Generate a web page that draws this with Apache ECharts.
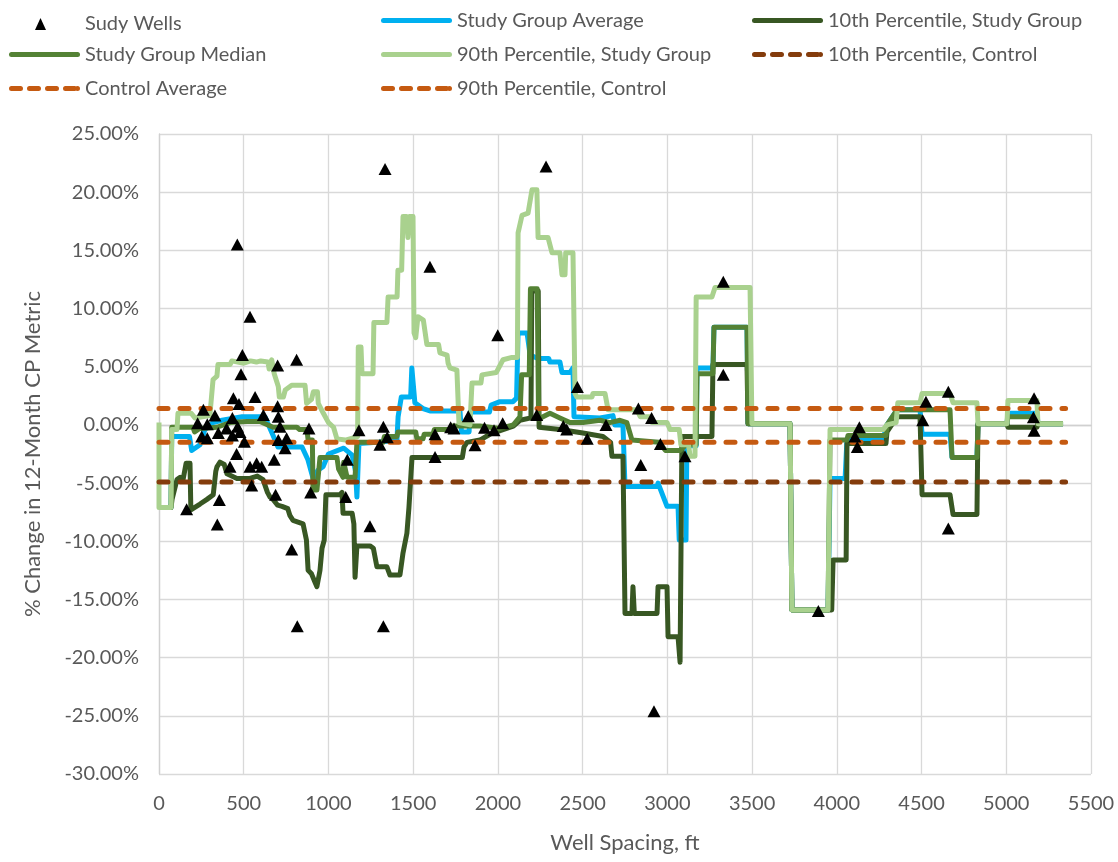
<!DOCTYPE html>
<html>
<head>
<meta charset="utf-8">
<title>Well Spacing vs 12-Month CP Metric</title>
<script src="https://cdn.jsdelivr.net/npm/echarts@6/dist/echarts.min.js"></script>
<style>
  html, body { margin: 0; padding: 0; background: #ffffff; }
  #chart { width: 1118px; height: 862px; }
</style>
</head>
<body>
<div id="chart"></div>
<script>
// Individual wells: [well spacing (ft), % change in 12-month CP metric]
const studyWells = [
  [492, 6.0], [812, 5.6], [700, 5.1], [484, 4.35], [439, 2.3], [472, 1.8], [567, 2.4],
  [262, 1.3], [330, 0.8], [228, 0.15], [285, 0.05], [433, 0.6], [616, 0.85], [700, 1.6],
  [704, 0.7], [714, -0.15], [350, -0.7], [399, -0.3], [464, -0.15], [478, -0.6], [252, -1.0],
  [285, -1.15], [433, -0.9], [504, -1.45], [704, -1.3], [753, -1.15], [744, -2.0], [885, -0.3],
  [458, -2.5], [419, -3.6], [537, -3.6], [576, -3.3], [606, -3.6], [680, -3.0], [547, -5.2],
  [688, -6.0], [895, -5.8], [163, -7.25], [356, -6.45], [344, -8.55], [462, 15.5], [537, 9.3],
  [783, -10.7], [816, -17.3], [1324, -17.3], [1334, 22.0], [1599, 13.6], [1102, -6.2],
  [1111, -3.0], [1245, -8.7], [1180, -0.45], [1324, -0.15], [1304, -1.7], [1347, -1.05],
  [1629, -0.8], [1629, -2.75], [1721, -0.2], [1741, -0.3], [1825, 0.75], [1865, -1.75],
  [1921, -0.25], [1977, -0.45], [2028, 0.15], [1999, 7.7], [2229, 0.85], [2386, -0.1],
  [2406, -0.4], [2527, -1.2], [2469, 3.25], [2638, 0.0], [2829, 1.4], [2907, 0.6],
  [2959, -1.65], [2843, -3.45], [2284, 22.2], [2921, -24.6], [3104, -2.7], [3330, 12.3],
  [3330, 4.3], [3891, -16.0], [4133, -0.2], [4107, -1.0], [4121, -1.9], [4507, 0.4],
  [4526, 2.0], [4658, 2.85], [4658, -8.9], [5164, 2.3], [5160, 0.65], [5164, -0.5]
];

// Rolling study-group statistics along well spacing
const studyAverage = [
  [0, -7.1], [71, -7.1], [75, -1.0], [180, -1.0], [193, -2.2], [200, -2.2], [242, -1.7],
  [271, -0.4], [319, 0.2], [372, 0.4], [490, 0.7], [625, 0.7], [667, -0.7], [702, -1.9],
  [844, -1.9], [879, -3.0], [909, -4.6], [938, -3.9], [968, -3.6], [1000, -2.5], [1090, -2.0],
  [1140, -2.6], [1160, -4.0], [1168, -6.2], [1180, -1.6], [1286, -1.5], [1404, -1.3],
  [1411, 0.7], [1430, 2.4], [1485, 2.4], [1492, 4.9], [1502, 4.9], [1510, 1.9], [1558, 1.4],
  [1599, 1.2], [1776, 1.2], [1785, -0.6], [1830, -0.6], [1835, 1.1], [1950, 1.1], [1960, 1.7],
  [2012, 2.0], [2089, 2.0], [2110, 2.3], [2119, 7.9], [2172, 7.9], [2190, 6.0], [2237, 5.7],
  [2300, 5.7], [2307, 5.4], [2366, 5.4], [2378, 4.5], [2425, 4.5], [2443, 4.9], [2449, 0.7],
  [2602, 0.6], [2679, 0.8], [2690, 0.0], [2738, 0.0], [2750, -5.3], [2939, -5.3], [2945, -5.0],
  [2998, -7.0], [3063, -7.0], [3070, -9.9], [3110, -9.9], [3115, -1.8], [3170, -1.8],
  [3175, 4.9], [3269, 4.9], [3275, 8.4], [3470, 8.4], [3476, 0.1], [3724, 0.1], [3735, -15.9],
  [3948, -15.9], [3960, -4.6], [4049, -4.6], [4060, -1.2], [4273, -1.2], [4296, 0.0],
  [4355, 1.3], [4491, 1.3], [4503, -0.8], [4668, -0.8], [4680, -2.8], [4827, -2.8],
  [4833, 0.1], [5004, 0.1], [5010, 1.0], [5181, 1.0], [5187, 0.1], [5335, 0.1]
];

const studyP10 = [
  [0, -7.1], [71, -7.1], [77, -6.4], [106, -4.7], [125, -4.5], [142, -4.7], [160, -3.3],
  [183, -3.3], [188, -7.3], [242, -6.8], [283, -6.4], [320, -6.0], [335, -4.0], [342, -3.6],
  [360, -3.2], [385, -3.4], [401, -4.2], [460, -4.6], [537, -4.6], [580, -4.4], [614, -4.7],
  [640, -5.8], [655, -6.2], [673, -6.4], [700, -6.9], [726, -7.0], [760, -7.2], [773, -7.8],
  [791, -8.2], [850, -8.5], [870, -9.9], [880, -12.5], [900, -12.8], [920, -13.5],
  [932, -13.9], [950, -12.5], [962, -10.6], [975, -9.9], [985, -6.0], [1068, -6.0],
  [1080, -5.8], [1086, -7.6], [1140, -7.6], [1150, -8.5], [1157, -13.1], [1168, -10.4],
  [1245, -10.4], [1265, -10.6], [1286, -12.2], [1345, -12.2], [1363, -12.9], [1422, -12.9],
  [1440, -11.0], [1463, -9.3], [1475, -7.1], [1493, -2.8], [1790, -2.8], [1800, -1.9],
  [1817, -1.5], [1894, -1.3], [1953, -0.8], [2030, -0.4], [2091, -0.1], [2130, 0.4],
  [2195, 0.6], [2200, 11.5], [2238, 11.5], [2243, -0.2], [2366, -0.4], [2502, -0.7],
  [2620, -1.0], [2665, -1.5], [2673, -2.7], [2738, -2.7], [2750, -16.2], [2791, -16.2],
  [2797, -13.9], [2805, -16.2], [2939, -16.2], [2945, -13.9], [2998, -13.9], [3004, -18.2],
  [3063, -18.2], [3075, -20.4], [3086, -1.0], [3263, -1.0], [3269, 5.2], [3470, 5.2],
  [3476, 0.1], [3724, 0.1], [3735, -15.9], [3970, -15.9], [3978, -11.6], [4055, -11.6],
  [4060, -1.6], [4290, -1.6], [4296, -0.6], [4355, 0.7], [4491, 0.7], [4503, -6.0],
  [4668, -6.0], [4686, -7.7], [4827, -7.7], [4833, 0.1], [5004, 0.1], [5010, -0.2],
  [5181, -0.2], [5187, 0.1], [5335, 0.1]
];

const studyMedian = [
  [0, -7.1], [71, -7.1], [75, -0.2], [200, -0.2], [210, -0.6], [240, -0.3], [342, -0.2],
  [419, 0.2], [519, 0.3], [596, 0.3], [673, -0.2], [814, -0.2], [830, -0.4], [873, -0.4],
  [880, -1.3], [905, -1.3], [909, -5.6], [932, -5.6], [950, -2.8], [1050, -2.8], [1060, -3.8],
  [1086, -4.5], [1090, -3.2], [1110, -4.5], [1157, -4.5], [1168, -1.5], [1322, -1.5],
  [1330, -1.0], [1404, -1.0], [1410, -0.6], [1515, -0.6], [1522, -1.2], [1558, -1.2],
  [1565, -0.8], [1617, -0.8], [1625, -0.4], [1717, -0.4], [1725, -0.1], [1894, -0.1],
  [2012, -0.3], [2091, 0.0], [2130, 0.7], [2140, 4.3], [2185, 4.3], [2192, 11.7],
  [2232, 11.7], [2240, 0.5], [2307, 1.0], [2366, 0.6], [2425, 0.2], [2502, 0.2], [2602, 0.4],
  [2661, 0.2], [2720, 0.4], [2761, 0.2], [2791, -1.3], [2950, -1.5], [2989, -2.2],
  [3075, -2.2], [3110, -1.7], [3170, -1.7], [3175, 4.4], [3269, 4.4], [3275, 8.4],
  [3470, 8.4], [3476, 0.1], [3724, 0.1], [3735, -15.9], [3948, -15.9], [3960, -1.3],
  [4060, -1.3], [4066, -0.9], [4290, -0.9], [4296, 0.0], [4355, 1.3], [4668, 1.3],
  [4680, -2.8], [4827, -2.8], [4833, 0.1], [5004, 0.1], [5010, 0.7], [5181, 0.7],
  [5187, 0.1], [5335, 0.1]
];

const studyP90 = [
  [0, 0.2], [0, -7.1], [71, -7.1], [75, -0.4], [106, -0.4], [112, 1.0], [190, 1.0],
  [212, 0.6], [300, 0.8], [319, 3.9], [342, 4.2], [348, 5.2], [420, 5.2], [430, 5.5],
  [500, 5.3], [540, 5.5], [575, 5.4], [600, 5.5], [643, 5.4], [650, 4.8], [658, 5.3],
  [665, 5.6], [680, 4.4], [704, 3.3], [710, 2.4], [734, 2.4], [745, 3.0], [783, 3.4],
  [862, 3.4], [871, 1.85], [900, 2.2], [911, 2.85], [935, 2.85], [940, 1.85], [970, 1.0],
  [1000, 0.2], [1030, -0.2], [1050, -1.2], [1100, -1.3], [1172, -1.0], [1176, 6.7],
  [1192, 6.7], [1198, 4.4], [1263, 4.4], [1268, 8.8], [1345, 8.8], [1352, 11.0], [1405, 11.0],
  [1410, 13.3], [1432, 13.3], [1440, 17.9], [1460, 17.9], [1469, 16.1], [1478, 17.9],
  [1499, 17.9], [1505, 7.9], [1515, 7.5], [1528, 9.3], [1560, 9.0], [1581, 6.9], [1650, 6.9],
  [1658, 6.2], [1700, 6.0], [1706, 5.3], [1717, 4.9], [1758, 4.7], [1770, 0.2], [1835, 0.0],
  [1847, 3.6], [1900, 3.6], [1906, 4.3], [1990, 4.5], [2030, 5.6], [2083, 5.8], [2115, 5.8],
  [2119, 16.5], [2142, 18.0], [2178, 18.2], [2201, 20.2], [2230, 20.2], [2237, 16.1],
  [2296, 16.1], [2319, 14.8], [2366, 14.8], [2378, 12.9], [2396, 12.9], [2400, 14.8],
  [2443, 14.8], [2455, 2.7], [2466, 2.4], [2555, 2.4], [2561, 2.7], [2632, 2.7], [2650, 1.3],
  [2820, 1.3], [2840, 0.7], [2898, 0.7], [2910, 0.2], [2998, 0.2], [3016, -0.4], [3070, -0.4],
  [3080, -1.7], [3125, -1.7], [3134, -2.7], [3163, -2.7], [3170, 11.0], [3263, 11.0],
  [3281, 11.8], [3488, 11.8], [3499, 0.1], [3724, 0.1], [3735, -15.9], [3948, -15.9],
  [3960, -0.4], [4273, -0.4], [4296, 0.0], [4350, 0.2], [4360, 1.9], [4491, 1.9],
  [4503, 2.7], [4668, 2.7], [4686, 1.9], [4827, 1.9], [4833, 0.1], [5004, 0.1], [5010, 2.1],
  [5181, 2.1], [5187, 0.1], [5335, 0.1]
];

// Control group reference levels (%)
const controlP10 = -4.9;
const controlAverage = -1.5;
const controlP90 = 1.4;
const controlSpan = [0, 5350];

// Axis ranges and ticks
const xTicks = { min: 0, max: 5500, step: 500 };
const yTicks = { min: -30, max: 25, step: 5 };

const FONT = 'Lato, "Open Sans", sans-serif';
const TEXT = '#595959';
const LINE_W = 5;
const DASH = [9, 12];

// Legend swatches: a thick rounded bar for solid lines, a row of dashes for dashed ones
const SOLID_ICON = 'path://M2.5,0 L68.5,0 A2.5,2.5 0 0 1 68.5,5 L2.5,5 A2.5,2.5 0 0 1 2.5,0 Z';
const DASH_ICON = 'path://' + [0, 18, 36, 54].map(s =>
  `M${s + 2.5},0 L${s + 11.5},0 A2.5,2.5 0 0 1 ${s + 11.5},5 L${s + 2.5},5 A2.5,2.5 0 0 1 ${s + 2.5},0 Z`
).join(' ') + ' M68.5,0 A2.5,2.5 0 0 1 68.5,5 A2.5,2.5 0 0 1 68.5,0 Z M71,0 L71,5';

const seriesDefs = [
  { name: 'Study Group Average', data: studyAverage, color: '#00B0F0', dash: null },
  { name: '10th Percentile, Study Group', data: studyP10, color: '#385723', dash: null },
  { name: 'Study Group Median', data: studyMedian, color: '#548235', dash: null },
  { name: '90th Percentile, Study Group', data: studyP90, color: '#A9D18E', dash: null },
  { name: '10th Percentile, Control', data: controlSpan.map(x => [x, controlP10]), color: '#843C0C', dash: DASH },
  { name: 'Control Average', data: controlSpan.map(x => [x, controlAverage]), color: '#C55A11', dash: DASH },
  { name: '90th Percentile, Control', data: controlSpan.map(x => [x, controlP90]), color: '#C55A11', dash: DASH }
];

const lineSeries = seriesDefs.map(d => ({
  name: d.name,
  type: 'line',
  data: d.data,
  symbol: 'none',
  showSymbol: false,
  color: d.color,
  itemStyle: { color: d.color },
  lineStyle: {
    color: d.color,
    width: LINE_W,
    type: d.dash || 'solid',
    cap: d.dash ? 'round' : 'butt',
    join: 'round'
  },
  animation: false,
  z: 2
}));

const scatterSeries = {
  name: 'Sudy Wells',
  type: 'scatter',
  data: studyWells,
  symbol: 'triangle',
  symbolSize: [13, 12],
  itemStyle: { color: '#000000', opacity: 1 },
  animation: false,
  z: 5
};

// Legend: three columns, three rows
const legendSlots = [
  { name: 'Sudy Wells', left: 35, top: 14, scatter: true },
  { name: 'Study Group Average', left: 381, top: 10.5 },
  { name: '10th Percentile, Study Group', left: 752, top: 10.5 },
  { name: 'Study Group Median', left: 9, top: 44.5 },
  { name: '90th Percentile, Study Group', left: 381, top: 44.5 },
  { name: '10th Percentile, Control', left: 752, top: 44.5, dashed: true },
  { name: 'Control Average', left: 9, top: 78.5, dashed: true },
  { name: '90th Percentile, Control', left: 381, top: 78.5, dashed: true }
];

const legends = legendSlots.map(s => ({
  data: [{ name: s.name, icon: s.scatter ? 'triangle' : (s.dashed ? DASH_ICON : SOLID_ICON) }],
  left: s.left,
  top: s.top,
  padding: 0,
  itemWidth: s.scatter ? 11 : 71,
  itemHeight: s.scatter ? 12 : 5,
  selectedMode: false,
  textStyle: {
    fontFamily: FONT,
    fontSize: 20,
    color: TEXT,
    padding: s.scatter ? [0, 0, 0, 34] : 0
  }
}));

const chart = echarts.init(document.getElementById('chart'), null, { renderer: 'canvas' });
chart.setOption({
  backgroundColor: '#ffffff',
  animation: false,
  legend: legends,
  grid: { left: 159, right: 27, top: 134, bottom: 88, containLabel: false },
  xAxis: {
    type: 'value',
    min: xTicks.min,
    max: xTicks.max,
    interval: xTicks.step,
    name: 'Well Spacing, ft',
    nameLocation: 'middle',
    nameGap: 58,
    nameTextStyle: { fontFamily: FONT, fontSize: 22, color: TEXT },
    axisLine: { show: true, lineStyle: { color: '#D0D0D0', width: 1.3 } },
    axisTick: { show: false },
    axisLabel: {
      fontFamily: FONT, fontSize: 20, color: TEXT, margin: 20,
      formatter: v => String(v)
    },
    splitLine: { show: true, lineStyle: { color: '#D9D9D9', width: 1.3 } }
  },
  yAxis: {
    type: 'value',
    min: yTicks.min,
    max: yTicks.max,
    interval: yTicks.step,
    name: '% Change in 12-Month CP Metric',
    nameLocation: 'middle',
    nameGap: 115,
    nameTextStyle: { fontFamily: FONT, fontSize: 22, color: TEXT },
    axisLine: { show: true, lineStyle: { color: '#D0D0D0', width: 1.3 } },
    axisTick: { show: false },
    axisLabel: {
      fontFamily: FONT, fontSize: 20, color: TEXT, margin: 20,
      formatter: v => v.toFixed(2) + '%'
    },
    splitLine: { show: true, lineStyle: { color: '#D9D9D9', width: 1.3 } }
  },
  series: [scatterSeries].concat(lineSeries)
});
</script>
</body>
</html>
